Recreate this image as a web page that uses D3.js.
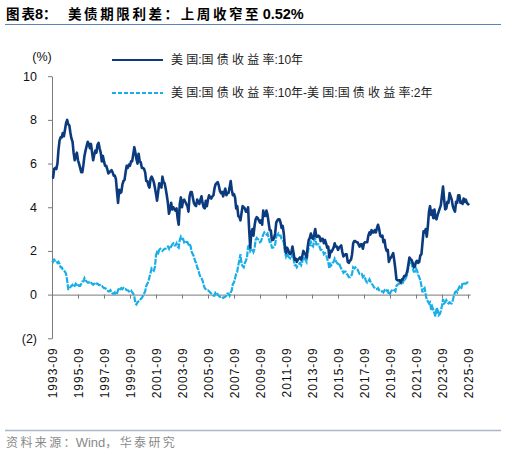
<!DOCTYPE html>
<html lang="zh">
<head>
    <meta charset="utf-8">
    <title>美债期限利差</title>
    <script src="https://d3js.org/d3.v7.min.js"></script>
    <style>
        body { margin: 0; background: #fff; }
        text { font-family: "Liberation Sans", Arial, "Noto Sans CJK SC", sans-serif; }
    </style>
</head>
<body>

<script>
    // monthly series, first point 1993-09
    const startMonth = "1993-09";

    // 美国:国债收益率:10年
    const us10y = [
        5.35, 5.35, 5.75, 5.80,
        5.75, 6.00, 6.60, 7.05, 7.20, 7.20, 7.40, 7.25, 7.55, 7.85, 8.00, 7.80,
        7.75, 7.40, 7.15, 7.00, 6.50, 6.15, 6.35, 6.50, 6.15, 6.00, 5.80, 5.60,
        5.60, 5.95, 6.35, 6.60, 6.80, 7.00, 6.90, 6.70, 6.90, 6.50, 6.15, 6.40,
        6.60, 6.50, 6.85, 6.95, 6.70, 6.50, 6.10, 6.35, 6.10, 5.90, 5.90, 5.75,
        5.55, 5.60, 5.65, 5.70, 5.60, 5.45, 5.45, 5.30, 4.70, 4.20, 4.80, 4.65,
        4.70, 5.05, 5.20, 5.25, 5.60, 5.90, 5.80, 5.95, 5.90, 6.10, 6.10, 6.40,
        6.75, 6.50, 6.20, 6.00, 6.45, 6.10, 6.05, 5.80, 5.80, 5.75, 5.60, 5.20,
        5.20, 5.00, 4.90, 5.30, 5.40, 5.30, 5.15, 4.90, 4.60, 4.30, 4.70, 5.10,
        5.05, 4.90, 5.40, 5.15, 5.10, 4.85, 4.55, 4.20, 3.70, 3.90, 4.20, 3.90,
        4.00, 3.90, 3.85, 3.95, 3.50, 3.20, 4.15, 4.45, 4.00, 4.30, 4.35, 4.25,
        4.15, 4.05, 3.80, 4.50, 4.70, 4.70, 4.45, 4.20, 4.10, 4.05, 4.35, 4.25,
        4.15, 4.35, 4.50, 4.20, 4.00, 3.95, 4.30, 4.05, 4.35, 4.55, 4.45, 4.40,
        4.50, 4.55, 4.85, 5.05, 5.10, 5.15, 5.00, 4.75, 4.65, 4.70, 4.50, 4.70,
        4.85, 4.55, 4.65, 4.65, 4.90, 5.20, 4.80, 4.55, 4.60, 4.45, 3.95, 4.05,
        3.60, 3.55, 3.40, 3.75, 4.05, 4.00, 3.95, 3.80, 3.80, 4.00, 2.95, 2.15,
        2.85, 3.00, 2.70, 3.15, 3.45, 3.55, 3.50, 3.40, 3.30, 3.40, 3.20, 3.85,
        3.60, 3.60, 3.85, 3.65, 3.30, 2.95, 2.95, 2.50, 2.50, 2.60, 2.80, 3.30,
        3.40, 3.45, 3.45, 3.30, 3.05, 3.15, 2.80, 2.20, 1.90, 2.15, 2.05, 1.90,
        1.85, 1.95, 2.20, 1.90, 1.60, 1.65, 1.50, 1.60, 1.65, 1.70, 1.60, 1.75,
        2.00, 1.90, 1.85, 1.70, 2.15, 2.50, 2.60, 2.80, 2.60, 2.55, 2.75, 3.00,
        2.65, 2.65, 2.70, 2.65, 2.45, 2.55, 2.55, 2.35, 2.50, 2.35, 2.15, 2.20,
        1.70, 2.00, 1.95, 2.05, 2.15, 2.35, 2.20, 2.20, 2.05, 2.15, 2.20, 2.25,
        1.95, 1.75, 1.80, 1.85, 1.85, 1.50, 1.45, 1.55, 1.60, 1.85, 2.35, 2.45,
        2.45, 2.40, 2.40, 2.30, 2.20, 2.30, 2.30, 2.10, 2.35, 2.40, 2.40, 2.40,
        2.70, 2.85, 2.75, 2.95, 2.85, 2.85, 2.95, 2.85, 3.05, 3.20, 3.00, 2.70,
        2.65, 2.70, 2.40, 2.50, 2.15, 2.00, 2.05, 1.50, 1.65, 1.70, 1.80, 1.90,
        1.55, 1.15, 0.70, 0.65, 0.65, 0.65, 0.55, 0.70, 0.70, 0.85, 0.85, 0.92,
        1.10, 1.40, 1.70, 1.62, 1.58, 1.45, 1.25, 1.30, 1.50, 1.55, 1.45, 1.50,
        1.80, 1.85, 2.35, 2.90, 2.85, 3.00, 2.65, 3.15, 3.80, 4.05, 3.65, 3.85,
        3.50, 3.90, 3.50, 3.45, 3.65, 3.80, 3.95, 4.10, 4.55, 4.95, 4.35, 3.90,
        3.95, 4.25, 4.20, 4.65, 4.50, 4.35, 4.05, 3.90, 3.80, 4.25, 4.20, 4.55,
        4.55, 4.20, 4.25, 4.15, 4.40, 4.25, 4.35, 4.20, 4.15, 4.10
    ];

    // 美国:国债收益率:10年-美国:国债收益率:2年
    const spread = [
        1.55, 1.50, 1.60, 1.55,
        1.55, 1.45, 1.50, 1.40, 1.25, 1.25, 1.15, 1.10, 1.05, 0.95, 0.65, 0.25,
        0.25, 0.35, 0.40, 0.45, 0.35, 0.40, 0.50, 0.45, 0.50, 0.40, 0.40, 0.50,
        0.60, 0.60, 0.75, 0.65, 0.60, 0.55, 0.55, 0.60, 0.55, 0.50, 0.45, 0.50,
        0.55, 0.50, 0.50, 0.45, 0.45, 0.40, 0.40, 0.35, 0.30, 0.30, 0.25, 0.20,
        0.15, 0.15, 0.20, 0.10, 0.05, 0.05, 0.10, 0.00, 0.05, 0.20, 0.30, 0.25,
        0.30, 0.25, 0.30, 0.25, 0.25, 0.20, 0.20, 0.15, 0.20, 0.20, 0.10, 0.05,
        -0.10, -0.40, -0.45, -0.35, -0.30, -0.25, -0.20, -0.15, -0.05, 0.05, 0.15, 0.40,
        0.50, 0.60, 0.80, 1.00, 1.20, 1.15, 1.10, 1.25, 1.80, 1.95, 1.90, 2.05,
        2.10, 2.05, 2.00, 2.05, 2.10, 2.10, 2.15, 2.20, 2.10, 2.25, 2.20, 2.30,
        2.35, 2.25, 2.25, 2.35, 2.20, 2.15, 2.50, 2.65, 2.55, 2.55, 2.40, 2.45,
        2.40, 2.40, 2.30, 2.35, 2.20, 1.95, 1.85, 1.75, 1.55, 1.45, 1.25, 1.15,
        0.95, 0.80, 0.75, 0.65, 0.45, 0.30, 0.25, 0.20, 0.20, 0.15, 0.10, 0.05,
        0.00, -0.05, -0.05, 0.10, 0.10, 0.00, -0.05, -0.10, -0.10, -0.10, -0.15, -0.12,
        -0.10, -0.05, 0.05, 0.05, -0.05, 0.10, 0.20, 0.50, 0.55, 0.75, 0.95, 1.05,
        1.35, 1.60, 1.85, 1.40, 1.30, 1.25, 1.45, 1.55, 1.70, 2.20, 2.25, 2.00,
        2.10, 2.05, 1.95, 2.10, 2.50, 2.60, 2.55, 2.50, 2.40, 2.45, 2.60, 2.75,
        2.85, 2.80, 2.75, 2.80, 2.60, 2.40, 2.40, 2.15, 2.15, 2.20, 2.30, 2.65,
        2.75, 2.80, 2.70, 2.70, 2.55, 2.50, 2.40, 1.95, 1.75, 1.90, 1.75, 1.70,
        1.65, 1.65, 1.85, 1.65, 1.35, 1.35, 1.25, 1.35, 1.40, 1.45, 1.35, 1.50,
        1.75, 1.65, 1.60, 1.50, 1.85, 2.15, 2.25, 2.40, 2.25, 2.20, 2.45, 2.60,
        2.30, 2.30, 2.30, 2.20, 2.05, 2.05, 2.00, 1.85, 1.90, 1.85, 1.65, 1.50,
        1.20, 1.40, 1.35, 1.45, 1.50, 1.65, 1.55, 1.45, 1.40, 1.45, 1.30, 1.20,
        1.10, 1.00, 1.05, 1.05, 0.95, 0.90, 0.80, 0.80, 0.85, 0.95, 1.25, 1.20,
        1.25, 1.20, 1.15, 1.05, 0.95, 0.95, 0.95, 0.80, 0.85, 0.75, 0.60, 0.55,
        0.60, 0.70, 0.60, 0.50, 0.45, 0.35, 0.30, 0.25, 0.25, 0.30, 0.20, 0.15,
        0.15, 0.15, 0.10, 0.20, 0.15, 0.20, 0.20, 0.00, 0.05, 0.15, 0.20, 0.25,
        0.20, 0.15, 0.40, 0.45, 0.50, 0.50, 0.45, 0.55, 0.55, 0.70, 0.70, 0.80,
        0.95, 1.25, 1.55, 1.45, 1.45, 1.20, 1.05, 1.05, 1.20, 1.10, 0.90, 0.80,
        0.65, 0.40, 0.10, 0.25, 0.30, 0.00, -0.25, -0.30, -0.40, -0.35, -0.70, -0.55,
        -0.70, -0.85, -1.00, -0.60, -0.70, -0.95, -0.90, -0.75, -0.50, -0.20, -0.40, -0.35,
        -0.25, -0.35, -0.40, -0.35, -0.40, -0.40, -0.25, -0.05, 0.10, 0.15, 0.10, 0.25,
        0.35, 0.25, 0.30, 0.55, 0.50, 0.50, 0.50, 0.55, 0.55, 0.52
    ];

    const tickLabels = ["1993-09", "1995-09", "1997-09", "1999-09", "2001-09", "2003-09",
        "2005-09", "2007-09", "2009-09", "2011-09", "2013-09", "2015-09", "2017-09",
        "2019-09", "2021-09", "2023-09", "2025-09"];
    const yTicks = [10, 8, 6, 4, 2, 0, -2];
    const seriesNames = ["美国:国债收益率:10年", "美国:国债收益率:10年-美国:国债收益率:2年"];

    const navy = "#0b3b7e";
    const cyan = "#1aaee8";

    const parseMonth = d3.timeParse("%Y-%m");
    const start = parseMonth(startMonth);
    const months = us10y.map((d, i) => d3.timeMonth.offset(start, i));

    const W = 506, H = 455;
    const svg = d3.select("body").append("svg").attr("width", W).attr("height", H);

    // mixed text: CJK runs get extra spacing between their glyphs, latin runs stay tight
    const cjkRe = /[\u3000-\u9fff\uff00-\uffef]/;
    function mixedText(sel, str, spacing, latinSize) {
        const runs = str.match(/[\u3000-\u9fff\uff00-\uffef]+|[^\u3000-\u9fff\uff00-\uffef]+/g);
        runs.forEach((r, i) => {
            if (cjkRe.test(r)) {
                const last = i === runs.length - 1;
                const body = last ? r : r.slice(0, -1);
                if (body) sel.append("tspan").style("font-family", "Noto Sans CJK SC")
                    .style("letter-spacing", spacing + "px").text(body);
                if (!last) sel.append("tspan").style("font-family", "Noto Sans CJK SC")
                    .style("letter-spacing", "0px").text(r.slice(-1));
            } else {
                const t = sel.append("tspan").style("font-family", "Liberation Sans, Arial")
                    .style("letter-spacing", "0px").text(r);
                if (latinSize) t.style("font-size", latinSize + "px");
            }
        });
        return sel;
    }

    // title + rules
    const t1 = svg.append("text").attr("x", 6).attr("y", 19)
        .style("font-size", "13.5px").style("font-weight", "bold");
    mixedText(t1, "图表8：", 2, 14.5);
    const t2 = svg.append("text").attr("x", 68).attr("y", 19)
        .style("font-size", "13.5px").style("font-weight", "bold");
    mixedText(t2, "美债期限利差：上周收窄至 0.52%", 2.6, 14.5);
    svg.append("line").attr("x1", 5).attr("x2", 501).attr("y1", 24.5).attr("y2", 24.5)
        .attr("stroke", "#5a83b8").attr("stroke-width", 1.2);

    svg.append("line").attr("x1", 5).attr("x2", 501).attr("y1", 430.5).attr("y2", 430.5)
        .attr("stroke", "#a9b9cc").attr("stroke-width", 1.5);
    const src = svg.append("text").attr("x", 6).attr("y", 447)
        .style("font-size", "12px").attr("fill", "#8a8a8a");
    mixedText(src, "资料来源：Wind，华泰研究", 2.4, 13);

    // scales
    const x = d3.scaleTime()
            .domain([start, parseMonth("2025-11")])
            .range([52, 52 + 13 * (32 + 2 / 12)]);
    const y = d3.scaleLinear()
            .domain([-2, 10])
            .range([338.3, 76.2]);

    // y axis
    const yAxis = svg.append("g")
            .attr("transform", "translate(52,0)")
            .call(d3.axisLeft(y).tickValues(yTicks).tickSize(4).tickSizeOuter(0)
                .tickFormat(d => d < 0 ? "(" + Math.abs(d) + ")" : d));
    yAxis.selectAll("path, line").attr("stroke", "#7a7a7a");
    yAxis.selectAll("text").attr("x", -15).attr("fill", "#111")
        .style("font-size", "12.5px").style("font-family", "Liberation Sans, Arial, sans-serif");

    svg.append("text").attr("x", 42).attr("y", 61).attr("text-anchor", "middle")
        .style("font-size", "12.5px").attr("fill", "#111").text("(%)");

    // zero line with ticks
    const tickDates = tickLabels.map(parseMonth);
    const xAxis = svg.append("g")
            .attr("transform", `translate(0,${y(0)})`)
            .call(d3.axisBottom(x).tickValues(tickDates).tickSize(4).tickSizeOuter(0).tickFormat(""));
    xAxis.selectAll("path, line").attr("stroke", "#7a7a7a");

    // rotated labels at the bottom
    const xLab = svg.append("g")
            .attr("transform", `translate(0,${y(-2) + 9})`)
            .call(d3.axisBottom(x).tickValues(tickDates).tickSize(0)
                .tickFormat(d3.timeFormat("%Y-%m")));
    xLab.select(".domain").remove();
    xLab.selectAll("text")
        .attr("transform", "rotate(-90)")
        .attr("text-anchor", "end")
        .attr("x", 0).attr("y", 0).attr("dx", 0).attr("dy", "0.35em")
        .attr("fill", "#111")
        .style("font-size", "12px").style("letter-spacing", "1px")
        .style("font-family", "Liberation Sans, Arial, sans-serif");

    // lines
    const line = d3.line()
            .x((d, i) => x(months[i]))
            .y(d => y(d));

    svg.append("path").datum(spread)
        .attr("fill", "none").attr("stroke", cyan).attr("stroke-width", 2.2)
        .attr("stroke-dasharray", "6,1.2")
        .attr("d", line);

    svg.append("path").datum(us10y)
        .attr("fill", "none").attr("stroke", navy).attr("stroke-width", 2.6)
        .attr("stroke-linejoin", "round")
        .attr("d", line);

    // legend
    const legend = svg.append("g");
    const legendRows = [
        {name: seriesNames[0], color: navy, dash: null, y: 60},
        {name: seriesNames[1], color: cyan, dash: "4,2", y: 93}
    ];
    legendRows.forEach(r => {
        legend.append("line").attr("x1", 112).attr("x2", 163).attr("y1", r.y).attr("y2", r.y)
            .attr("stroke", r.color).attr("stroke-width", 2)
            .attr("stroke-dasharray", r.dash);
        const lt = legend.append("text").attr("x", 171).attr("y", r.y + 4)
            .style("font-size", "12px").attr("fill", "#222");
        mixedText(lt, r.name, 3.2);
    });
</script>

</body>
</html>
